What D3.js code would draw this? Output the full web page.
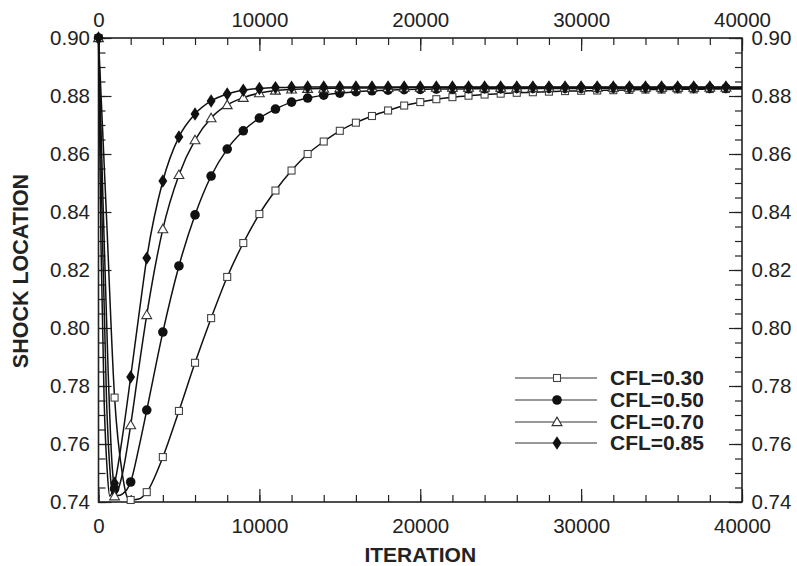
<!DOCTYPE html>
<html><head><meta charset="utf-8">
<script src="https://cdn.jsdelivr.net/npm/d3@7"></script>
<style>body{margin:0;background:#fff}svg{display:block}text{font-family:"Liberation Sans",Arial,sans-serif}</style>
</head><body><svg id="c" width="797" height="566"></svg>
<script>
const xTicks = [0,10000,20000,30000,40000];
const yTicks = [0.74,0.76,0.78,0.80,0.82,0.84,0.86,0.88,0.90];
const seriesNames = ["CFL=0.30","CFL=0.50","CFL=0.70","CFL=0.85"];

const iterA = [0,500,1000,1500,1800,2000,2500,3000,4000,5000,6000,7000,8000,9000,10000,11000,12000,13000,14000,15000,16000,17000,18000,19000,20000,21000,22000,23000,24000,25000,26000,27000,28000,29000,30000,31000,32000,33000,34000,35000,36000,37000,38000,39000,40000];
const cfl30 = [0.900,0.838,0.776,0.749,0.7415,0.7407,0.7410,0.7434,0.7555,0.7714,0.788,0.8034,0.8176,0.8293,0.8393,0.8474,0.8543,0.8600,0.8643,0.8680,0.8708,0.8731,0.8750,0.8767,0.8779,0.8789,0.8796,0.8801,0.8805,0.8808,0.8811,0.8813,0.8815,0.8817,0.8818,0.8819,0.8820,0.8821,0.8822,0.8822,0.8823,0.8823,0.8824,0.8824,0.8824];

const iterB = [0,300,600,800,1000,1200,1500,2000,2500,3000,4000,5000,6000,7000,8000,9000,10000,11000,12000,13000,14000,15000,16000,17000,18000,19000,20000,21000,22000,23000,24000,25000,26000,27000,28000,29000,30000,31000,32000,33000,34000,35000,36000,37000,38000,39000,40000];
const cfl50 = [0.900,0.840,0.785,0.757,0.7445,0.7422,0.7428,0.7469,0.7585,0.7717,0.7986,0.8214,0.8390,0.8524,0.8617,0.8680,0.8724,0.8755,0.8779,0.8793,0.8803,0.8810,0.8815,0.8818,0.8820,0.8822,0.8823,0.8824,0.8824,0.8825,0.8825,0.8825,0.8826,0.8826,0.8826,0.8826,0.8826,0.8827,0.8827,0.8827,0.8827,0.8827,0.8827,0.8827,0.8827,0.8827,0.8827];

const iterC = [0,250,500,700,900,1000,1200,1500,2000,2500,3000,4000,5000,6000,7000,8000,9000,10000,11000,12000,13000,14000,15000,16000,17000,18000,19000,20000,21000,22000,23000,24000,25000,26000,27000,28000,29000,30000,31000,32000,33000,34000,35000,36000,37000,38000,39000,40000];
const cfl70 = [0.900,0.830,0.775,0.752,0.7425,0.7420,0.7440,0.7500,0.7665,0.7860,0.8045,0.8341,0.8528,0.8648,0.8724,0.8769,0.8794,0.8810,0.8819,0.8823,0.8825,0.8826,0.8827,0.8828,0.8828,0.8828,0.8829,0.8829,0.8829,0.8829,0.8829,0.8829,0.8829,0.8829,0.8829,0.8829,0.8829,0.8829,0.8829,0.8829,0.8829,0.8829,0.8829,0.8829,0.8829,0.8829,0.8829,0.8829];

const iterD = [0,150,350,550,700,1000,1500,2000,2500,3000,4000,5000,6000,7000,8000,9000,10000,11000,12000,13000,14000,15000,16000,17000,18000,19000,20000,21000,22000,23000,24000,25000,26000,27000,28000,29000,30000,31000,32000,33000,34000,35000,36000,37000,38000,39000,40000];
const cfl85 = [0.900,0.830,0.775,0.750,0.7420,0.7465,0.7630,0.7831,0.8040,0.8241,0.8507,0.8659,0.8738,0.8783,0.8807,0.8820,0.8826,0.8829,0.8830,0.8831,0.8831,0.8831,0.8831,0.8831,0.8831,0.8831,0.8831,0.8831,0.8831,0.8831,0.8831,0.8831,0.8831,0.8831,0.8831,0.8831,0.8831,0.8831,0.8831,0.8831,0.8831,0.8831,0.8831,0.8831,0.8831,0.8831,0.8831];

const seriesIters = [iterA, iterB, iterC, iterD];
const seriesVals = [cfl30, cfl50, cfl70, cfl85];
const markerTypes = ["square","circle","triangle","diamond"];

const svg = d3.select("#c");
const L=98.5, R=742, T=38, B=502;
const x = d3.scaleLinear().domain([0,40000]).range([L,R]);
const y = d3.scaleLinear().domain([0.74,0.90]).range([B,T]);

const minorX = d3.range(0,40001,2000);
const minorY = d3.range(0,33).map(i=>0.74+i*0.005);
const FS = 20.5;

function styleAxis(g){
  g.select(".domain").remove();
  g.selectAll(".tick line").attr("stroke","#222").attr("stroke-width",1.2);
  g.selectAll("text").attr("font-size",FS).attr("fill","#222");
}
// bottom
svg.append("g").attr("transform",`translate(0,${B})`)
  .call(d3.axisBottom(x).tickValues(minorX).tickSize(-7).tickFormat(""))
  .call(styleAxis);
svg.append("g").attr("transform",`translate(0,${B})`)
  .call(d3.axisBottom(x).tickValues(xTicks).tickSize(-13).tickPadding(16).tickFormat(d3.format("d")))
  .call(styleAxis);
// top
svg.append("g").attr("transform",`translate(0,${T})`)
  .call(d3.axisTop(x).tickValues(minorX).tickSize(-7).tickFormat(""))
  .call(styleAxis);
svg.append("g").attr("transform",`translate(0,${T})`)
  .call(d3.axisTop(x).tickValues(xTicks).tickSize(-13).tickPadding(11.5).tickFormat(d3.format("d")))
  .call(styleAxis);
// left
svg.append("g").attr("transform",`translate(${L},0)`)
  .call(d3.axisLeft(y).tickValues(minorY).tickSize(-7).tickFormat(""))
  .call(styleAxis);
svg.append("g").attr("transform",`translate(${L},0)`)
  .call(d3.axisLeft(y).tickValues(yTicks).tickSize(-13).tickPadding(8.5).tickFormat(d3.format(".2f")))
  .call(styleAxis);
// right
svg.append("g").attr("transform",`translate(${R},0)`)
  .call(d3.axisRight(y).tickValues(minorY).tickSize(-7).tickFormat(""))
  .call(styleAxis);
svg.append("g").attr("transform",`translate(${R},0)`)
  .call(d3.axisRight(y).tickValues(yTicks).tickSize(-13).tickPadding(9.5).tickFormat(d3.format(".2f")))
  .call(styleAxis);

// frame
svg.append("rect").attr("x",L).attr("y",T).attr("width",R-L).attr("height",B-T)
  .attr("fill","none").attr("stroke","#222").attr("stroke-width",1.6);

// titles
svg.append("text").attr("x",(L+R)/2).attr("y",561.5).attr("text-anchor","middle")
  .attr("font-size",21).attr("font-weight","bold").attr("fill","#222").text("ITERATION");
svg.append("text").attr("transform",`translate(27.5,${(T+B)/2+1}) rotate(-90)`).attr("text-anchor","middle")
  .attr("font-size",21.5).attr("font-weight","bold").attr("fill","#222").text("SHOCK LOCATION");

// lines
const line = d3.line().x(d=>x(d[0])).y(d=>y(d[1])).curve(d3.curveMonotoneX);
const plot = svg.append("g");
seriesVals.forEach((vals,si)=>{
  const pts = seriesIters[si].map((it,i)=>[it,vals[i]]);
  plot.append("path").attr("d",line(pts)).attr("fill","none").attr("stroke","#111").attr("stroke-width",1.5);
});

function drawMarker(g,type,cx,cy){
  if(type==="square") g.append("rect").attr("x",cx-3.5).attr("y",cy-3.5).attr("width",7).attr("height",7)
      .attr("fill","#fff").attr("stroke","#444").attr("stroke-width",1.1);
  else if(type==="circle") g.append("circle").attr("cx",cx).attr("cy",cy).attr("r",4.8).attr("fill","#111");
  else if(type==="triangle") g.append("path").attr("d",d3.symbol(d3.symbolTriangle,42)()).attr("transform",`translate(${cx},${cy+0.8})`)
      .attr("fill","#fff").attr("stroke","#333").attr("stroke-width",1.1);
  else g.append("path").attr("d",d3.symbol(d3.symbolDiamond,52)()).attr("transform",`translate(${cx},${cy}) scale(1.15,1)`)
      .attr("fill","#111");
}
seriesVals.forEach((vals,si)=>{
  seriesIters[si].forEach((it,i)=>{
    if(it%1000===0 && it<40000) drawMarker(plot,markerTypes[si],x(it),y(vals[i]));
  });
});

// legend
const legY=[378,400,422,443];
seriesNames.forEach((n,i)=>{
  const g=svg.append("g");
  g.append("line").attr("x1",515).attr("x2",597).attr("y1",legY[i]).attr("y2",legY[i]).attr("stroke","#333").attr("stroke-width",1.2);
  drawMarker(g,markerTypes[i],557,legY[i]);
  g.append("text").attr("x",610).attr("y",legY[i]+7).attr("font-size",21).attr("font-weight","bold").attr("fill","#222").text(n);
});
</script></body></html>
